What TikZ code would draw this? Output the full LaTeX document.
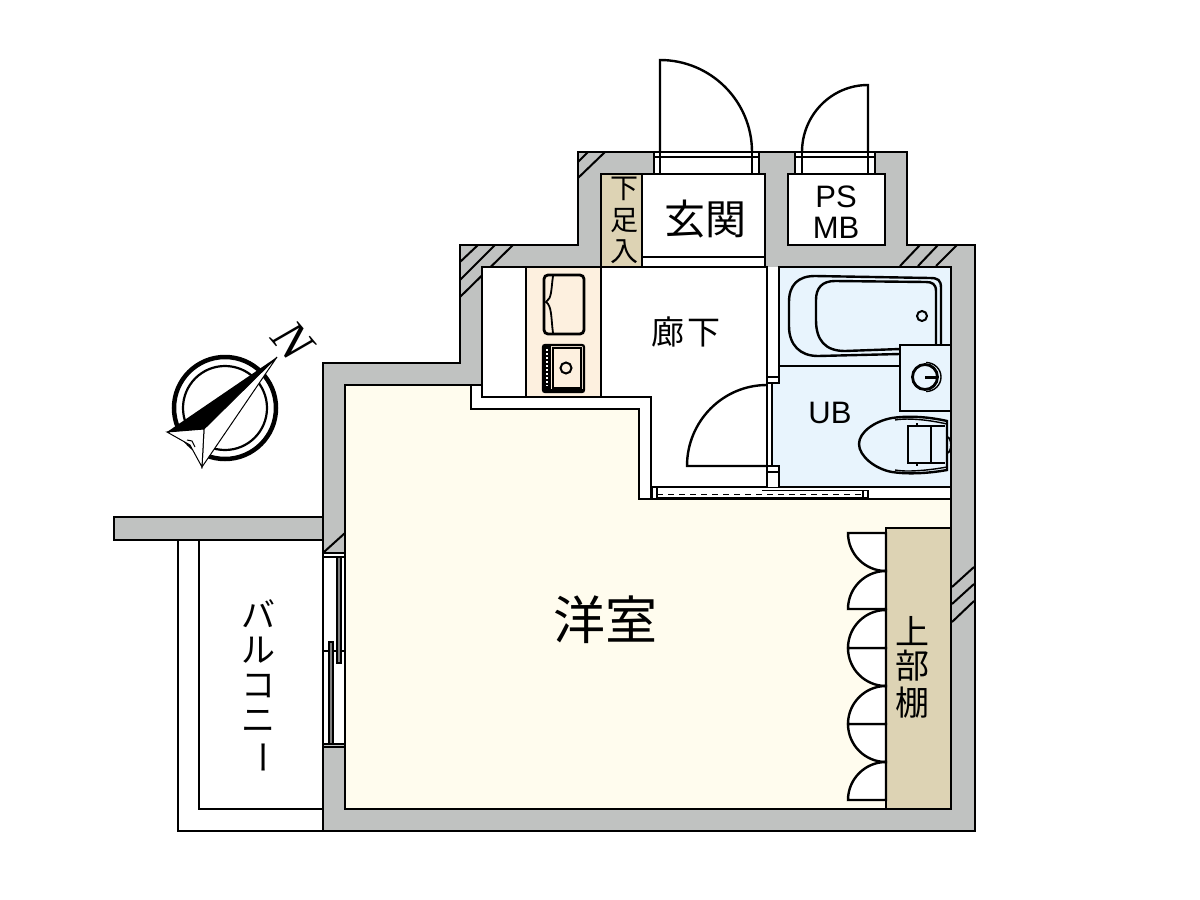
\documentclass[tikz,border=0pt]{standalone}
\usepackage{fontspec}
\setmainfont{Liberation Sans}
\newfontfamily\cjk{Noto Sans CJK JP}
\newfontfamily\nserif{Liberation Serif}
\definecolor{wallc}{HTML}{C0C2C1}
\definecolor{roomc}{HTML}{FFFCEE}
\definecolor{beigec}{HTML}{DDD3B4}
\definecolor{kitc}{HTML}{FDF0DF}
\definecolor{bathc}{HTML}{E8F4FD}
\tikzset{
 ln/.style={draw=black,line width=2.4pt,line join=miter},
 thin ln/.style={draw=black,line width=1.4pt},
 hatch/.style={draw=black,line width=2pt},
 lab/.style={inner sep=0pt,text=black},
 arcdoor/.style={draw=black,line width=2.4pt,fill=white},
}
\newcommand{\fs}[1]{\fontsize{#1}{#1}\selectfont}
\begin{document}
\begin{tikzpicture}[x=1pt,y=-1pt]
\useasboundingbox (0,0) rectangle (1200,900);
\fill[white] (0,0) rectangle (1200,900);
% balcony
\draw[ln,fill=white] (178,540) -- (178,831) -- (323,831) -- (323,809) -- (199,809) -- (199,540);
% wall
\draw[ln,fill=wallc] (578,152) -- (907,152) -- (907,245) -- (975,245) -- (975,831) -- (323,831) -- (323,540) -- (114,540) -- (114,517) -- (323,517) -- (323,363) -- (460,363) -- (460,245) -- (578,245) -- cycle;
% hatches
\draw[hatch] (578,162) -- (588,152) (578,178) -- (605,152);
\draw[hatch] (460,262) -- (478,245) (460,280) -- (495,245) (460,297) -- (513,245);
\draw[hatch] (900,266) -- (920,245) (918,266) -- (938,245) (936,266) -- (957,245);
\draw[hatch] (952,587) -- (974,567) (952,604) -- (974,584) (952,622) -- (974,601);
\draw[hatch] (324,552) -- (345,533);
% door openings top
\fill[white] (654,153) rectangle (759,174) (795,153) rectangle (875,174);
\draw[ln] (654,152) -- (654,174) (660,152) -- (660,174) (752,152) -- (752,174) (759,152) -- (759,174);
\draw[ln] (654,157) -- (759,157) (654,152) -- (759,152);
\draw[ln] (795,152) -- (795,174) (802,152) -- (802,174) (868,152) -- (868,174) (875,152) -- (875,174);
\draw[ln] (795,157) -- (875,157) (795,152) -- (875,152);
% door leaves
\draw[ln] (660,152) -- (660,60) arc[start angle=90,end angle=0,x radius=92,y radius=-92];
\draw[ln] (868,152) -- (868,85) arc[start angle=90,end angle=180,x radius=66,y radius=-67];
% entrance
\draw[ln,fill=beigec] (601,174) rectangle (642,267);
\draw[ln,fill=white] (642,174) rectangle (765,267);
\draw[ln] (642,257) -- (765,257);
\draw[ln,fill=white] (788,174) rectangle (885,245);
% room
\draw[ln,fill=roomc] (345,385) -- (471,385) -- (471,409) -- (639,409) -- (639,499) -- (951,499) -- (951,809) -- (345,809) -- cycle;
% white strip round kitchen and hall
\draw[ln,fill=white] (471,385) -- (482,385) -- (482,397) -- (651,397) -- (651,487) -- (651,499) -- (639,499) -- (639,409) -- (471,409) -- cycle;
% kitchen/hall
\draw[ln,fill=white] (482,267) -- (767,267) -- (767,487) -- (651,487) -- (651,397) -- (482,397) -- cycle;
\draw[ln,fill=kitc] (526,267) rectangle (601,397);
% band under hall and bath
\draw[ln,fill=white] (651,487) rectangle (951,499);
\draw[thin ln] (657,487) -- (657,499) (652,487) -- (652,499);
\draw[thin ln] (863,490) -- (863,499) (868,490) -- (868,499);
\draw[thin ln] (762,490.5) -- (868,490.5);
\draw[line width=1.8pt,dash pattern=on 6pt off 5pt] (657,494.5) -- (863,494.5);
\draw[thin ln] (657,497.5) -- (868,497.5);
% hall-bath wall strip
\fill[white] (767,267) rectangle (779,487);
\draw[ln] (767,267) -- (767,487);
% bath
\draw[ln,fill=bathc] (779,267) -- (951,267) -- (951,487) -- (779,487) -- (779,472) -- (772,472) -- (772,383) -- (779,383) -- cycle;
\draw[thin ln,fill=white] (767,377) rectangle (779,383);
\draw[thin ln,fill=white] (767,466) rectangle (779,472);
\draw[ln] (779,366) -- (900,366);
% tub
\draw[ln] (941,345) -- (941,288) .. controls (941,280) and (938,278) .. (930,278) -- (815,276) .. controls (798,276) and (789,285) .. (789,302) -- (789,326) .. controls (789,345) and (800,356) .. (818,356) -- (900,354);
\draw[ln] (936,345) -- (936,291) .. controls (936,284) and (932,282) .. (926,282) -- (835,281) .. controls (822,281) and (816,288) .. (816,300) -- (816,320) .. controls (816,340) and (825,351) .. (845,351) -- (900,349);
\draw[thin ln,line width=2pt] (922,316) circle[radius=5];
% vanity
\draw[ln,fill=bathc] (900,345) rectangle (951,411);
\draw[line width=2.8pt] (925,377) circle[radius=12.5];
\draw[line width=1.4pt] (926,362.5) arc[start angle=90,end angle=-90,x radius=15,y radius=-14.5];
\draw[line width=3pt] (925,377) -- (938,377);
% toilet
\draw[line width=1.8pt,fill=bathc] (947,437) arc[start angle=90,end angle=-90,x radius=4,y radius=-8];
\draw[ln,fill=bathc] (947,421) .. controls (925,416) and (905,416) .. (892,418) .. controls (875,421) and (859,432) .. (859,444) .. controls (859,456) and (875,469) .. (892,472) .. controls (905,474) and (925,474) .. (947,470) -- cycle;
\draw[thin ln] (947,424) .. controls (925,419) and (905,418) .. (895,420);
\draw[thin ln] (947,467) .. controls (925,471) and (905,472) .. (895,470);
\draw[ln] (917,423) -- (917,426) -- (908,426) -- (908,463) -- (917,463) -- (917,466);
\draw[ln] (931,426) -- (931,463);
\draw[ln] (908,426) -- (945,426) (917,463) -- (945,463);
% door hall-bath
\draw[thin ln] (772,383) -- (772,466);
\draw[ln] (767,466) -- (687,466) arc[start angle=180,end angle=90,x radius=80,y radius=-81];
% stove
\draw[line width=2.8pt,rounded corners=4pt] (544,275) rectangle (584,334);
\draw[line width=1.8pt] (553,276) .. controls (551,290) and (552,298) .. (546,302) .. controls (552,306) and (551,318) .. (553,333);
% sink
\draw[line width=2.2pt,rounded corners=2pt] (543,345) rectangle (584,392);
\fill[black] (543,345) rectangle (551,392);
\fill[black] (543,389) rectangle (584,392);
\draw[line width=1.2pt,white,dash pattern=on 1.5pt off 2.5pt] (547,349) -- (547,386);
\draw[line width=1.8pt] (553,348) rectangle (581,388);
\draw[line width=2pt] (566,368) circle[radius=5.5];
% closet
\draw[ln,fill=beigec] (886,528) rectangle (951,809);
\foreach \cy in {533,648,724}{
 \draw[arcdoor] (886,\cy) -- (848,\cy) arc[start angle=180,end angle=270,radius=38,y radius=-38] -- cycle;
}
\foreach \cy in {609,648,724,800}{
 \draw[arcdoor] (886,\cy) -- (848,\cy) arc[start angle=180,end angle=90,radius=38,y radius=-38] -- cycle;
}
\draw[ln] (886,528) rectangle (951,809);
% window
\fill[white] (323.5,553) rectangle (344,745);
\draw[ln] (323,517) -- (323,831);
\draw[ln] (345,385) -- (345,809);
\draw[thin ln] (323,553) -- (345,553) (323,557) -- (345,557) (323,744) -- (345,744) (323,747) -- (345,747);
\draw[thin ln] (323,651) -- (345,651);
\draw[thin ln,fill=gray] (337,557) rectangle (341,663);
\draw[thin ln,fill=gray] (329,642) rectangle (333,744);
% compass
\draw[line width=4.5pt] (225,408) circle[radius=51];
\draw[line width=2.2pt] (225,408) circle[radius=42];
\draw[line width=1pt,fill=white] (277,357) -- (204,429) -- (202,467) -- cycle;
\draw[line width=1pt,fill=white] (167,432) -- (204,429) -- (202,467) -- (190,445) -- cycle;
\draw[line width=1pt] (187,440) -- (192,441) -- (195,447);
\fill[black] (277,357) -- (167,432) -- (204,429) -- cycle;
% labels
\node[lab,font=\nserif\itshape\fs{50}] (north) at (293,341) [rotate=-50] {N};
\node[lab,font=\cjk\fs{52}] (yoshitsu) at (605,620) {洋室};
\node[lab,font=\cjk\fs{41}] (genkan) at (705,219) {玄関};
\node[lab,font=\cjk\fs{33}] (roka) at (686,332) {廊\hspace{3pt}下};
\node[lab,font=\fs{31}] (ub) at (830,413) {UB};
\node[lab,font=\fs{31}] (ps) at (836,197) {PS};
\node[lab,font=\fs{31}] (mb) at (836,228) {MB};
\node[lab,font=\cjk\fs{28}] (s1) at (624,189) {下};
\node[lab,font=\cjk\fs{28}] (s2) at (624,221) {足};
\node[lab,font=\cjk\fs{28}] (s3) at (624,252) {入};
\node[lab,font=\cjk\fs{34}] (j1) at (912,631) {上};
\node[lab,font=\cjk\fs{34}] (j2) at (912,666) {部};
\node[lab,font=\cjk\fs{34}] (j3) at (912,703) {棚};
\node[lab,font=\cjk\fs{34}] (b1) at (258,614) {バ};
\node[lab,font=\cjk\fs{34}] (b2) at (258,650) {ル};
\node[lab,font=\cjk\fs{34}] (b3) at (258,686) {コ};
\node[lab,font=\cjk\fs{34}] (b4) at (258,721) {ニ};
\node[lab,font=\cjk\fs{34},rotate=-90] (b5) at (258,757) {ー};
\end{tikzpicture}
\end{document}
